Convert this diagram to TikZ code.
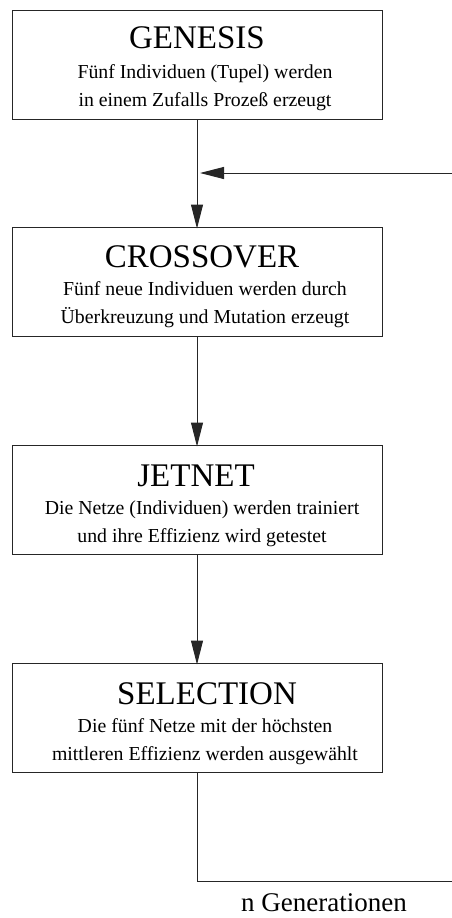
\documentclass[tikz,border=0pt]{standalone}
\usepackage{fontspec}
\setmainfont{Liberation Serif}
\usetikzlibrary{arrows.meta}
\begin{document}
\begin{tikzpicture}[x=1pt,y=-1pt,
  stagebox/.style={draw=black!85,line width=1pt,minimum width=370pt,inner sep=0pt,rectangle},
  titletext/.style={anchor=base,inner sep=0pt,font=\fontsize{33}{33}\selectfont},
  bodytext/.style={anchor=base,inner sep=0pt,font=\fontsize{19.8}{19.8}\selectfont},
  conn/.style={line width=1pt,draw=black!85},
  arr/.style={conn,-{Triangle[length=24pt,width=12pt]}}]
\useasboundingbox (0,0) rectangle (452,918);
% boxes
\node[stagebox,minimum height=109pt] (gen) at (197,64.5) {};
\node[stagebox,minimum height=109pt] (cro) at (197,281.5) {};
\node[stagebox,minimum height=109pt] (jet) at (197,499.5) {};
\node[stagebox,minimum height=109pt] (sel) at (197,717.5) {};
% texts
\node[titletext] (gent) at (197,48) {GENESIS};
\node[bodytext] (gen1) at (205,78) {Fünf Individuen (Tupel) werden};
\node[bodytext] (gen2) at (205,106) {in einem Zufalls Prozeß erzeugt};
\node[titletext] (crot) at (202,267) {CROSSOVER};
\node[bodytext] (cro1) at (205,295) {Fünf neue Individuen werden durch};
\node[bodytext] (cro2) at (205,323) {Überkreuzung und Mutation erzeugt};
\node[titletext] (jett) at (196,486) {JETNET};
\node[bodytext] (jet1) at (202,514) {Die Netze (Individuen) werden trainiert};
\node[bodytext] (jet2) at (202,542) {und ihre Effizienz wird getestet};
\node[titletext] (selt) at (207,704) {SELECTION};
\node[bodytext] (sel1) at (205,732) {Die fünf Netze mit der höchsten};
\node[bodytext] (sel2) at (205,760) {mittleren Effizienz werden ausgewählt};
\node[anchor=base,inner sep=0pt,font=\fontsize{27}{27}\selectfont] (ngen) at (324,911) {n Generationen};
% connectors
\coordinate (fbin) at (452,173);
\coordinate (fbend) at (197,173);
\coordinate (bot) at (197,881);
\coordinate (botr) at (452,881);
\draw[arr] (gen.south) -- ([yshift=-2pt]cro.north);
\draw[arr] (fbin) -- ([xshift=3pt]fbend);
\draw[arr] (cro.south) -- ([yshift=-2pt]jet.north);
\draw[arr] (jet.south) -- ([yshift=-2pt]sel.north);
\draw[conn] (sel.south) -- (bot) -- (botr);
\end{tikzpicture}
\end{document}
